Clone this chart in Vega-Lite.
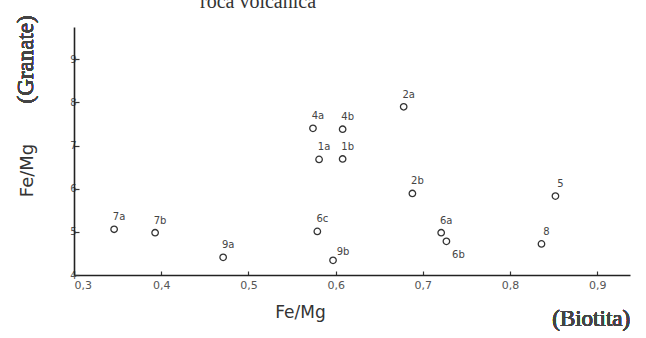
{
  "$schema": "https://vega.github.io/schema/vega-lite/v6.json",
  "width": 556,
  "height": 248,
  "autosize": {"type": "none"},
  "padding": {"left": 74, "top": 27, "right": 16, "bottom": 63},
  "background": "white",
  "config": {"view": {"stroke": null}},
  "title": {"text": "roca volcanica", "font": "Liberation Serif", "fontSize": 20, "fontWeight": "normal", "color": "#333", "anchor": "start", "dx": 126, "offset": 3, "frame": "group"},
  "data": {"values": [
    {"muestra": "7a", "biotita": 0.346, "granate": 5.06},
    {"muestra": "7b", "biotita": 0.393, "granate": 4.98},
    {"muestra": "9a", "biotita": 0.471, "granate": 4.41},
    {"muestra": "6c", "biotita": 0.579, "granate": 5.01},
    {"muestra": "9b", "biotita": 0.597, "granate": 4.34},
    {"muestra": "2b", "biotita": 0.688, "granate": 5.89},
    {"muestra": "5", "biotita": 0.852, "granate": 5.83},
    {"muestra": "6a", "biotita": 0.721, "granate": 4.98},
    {"muestra": "6b", "biotita": 0.727, "granate": 4.78},
    {"muestra": "8", "biotita": 0.836, "granate": 4.72},
    {"muestra": "4a", "biotita": 0.574, "granate": 7.40},
    {"muestra": "4b", "biotita": 0.608, "granate": 7.38},
    {"muestra": "1a", "biotita": 0.581, "granate": 6.68},
    {"muestra": "1b", "biotita": 0.608, "granate": 6.69},
    {"muestra": "2a", "biotita": 0.678, "granate": 7.90}
  ]},
  "encoding": {
    "x": {"field": "biotita", "type": "quantitative",
      "scale": {"domain": [0.3, 0.9375], "nice": false, "zero": false},
      "axis": {"values": [0.3, 0.4, 0.5, 0.6, 0.7, 0.8, 0.9], "grid": false,
        "labelExpr": "replace(format(datum.value, '.1f'), '.', ',')",
        "domainColor": "#222", "domainWidth": 1.6, "tickColor": "#333", "tickSize": -4, "tickWidth": 1.2,
        "labelColor": "#555", "labelFont": "DejaVu Sans", "labelFontSize": 11, "labelPadding": 8, "labelFlush": true,
        "title": "Fe/Mg", "titleFont": "DejaVu Sans", "titleFontSize": 17, "titleFontWeight": "normal", "titleColor": "#333",
        "titleX": 226, "titleY": 46, "titleAnchor": "middle", "titleAlign": "center", "titleBaseline": "bottom"}},
    "y": {"field": "granate", "type": "quantitative",
      "scale": {"domain": [4, 9.75], "nice": false, "zero": false},
      "axis": {"values": [4, 5, 6, 7, 8, 9], "grid": false, "format": "d",
        "domainColor": "#222", "domainWidth": 1.6, "tickColor": "#333", "tickSize": -5, "tickWidth": 1.2,
        "labelColor": "#555", "labelFont": "DejaVu Sans", "labelFontSize": 10, "labelPadding": 3,
        "title": "Fe/Mg", "titleFont": "DejaVu Sans", "titleFontSize": 18, "titleFontWeight": "normal", "titleColor": "#333",
        "titleX": -38, "titleY": 143, "titleAngle": 270, "titleAlign": "center", "titleBaseline": "bottom"}}
  },
  "layer": [
    {"mark": {"type": "point", "shape": "circle", "filled": false, "size": 42, "stroke": "#333", "strokeWidth": 1.3, "opacity": 1}},
    {"transform": [{"filter": "datum.muestra != '9b' && datum.muestra != '6b'"}],
      "mark": {"type": "text", "font": "DejaVu Sans", "fontSize": 10, "color": "#444", "dx": 5, "dy": -12, "align": "center", "baseline": "middle"},
      "encoding": {"text": {"field": "muestra"}}},
    {"transform": [{"filter": "datum.muestra == '9b'"}],
      "mark": {"type": "text", "font": "DejaVu Sans", "fontSize": 10, "color": "#444", "dx": 10, "dy": -8, "align": "center", "baseline": "middle"},
      "encoding": {"text": {"field": "muestra"}}},
    {"transform": [{"filter": "datum.muestra == '6b'"}],
      "mark": {"type": "text", "font": "DejaVu Sans", "fontSize": 10, "color": "#444", "dx": 12, "dy": 14, "align": "center", "baseline": "middle"},
      "encoding": {"text": {"field": "muestra"}}},
    {"mark": {"type": "text", "font": "Liberation Serif", "fontSize": 23, "fontWeight": "normal", "color": "#444", "angle": 270, "align": "center", "baseline": "middle", "clip": false},
      "encoding": {"x": {"datum": 0.245}, "y": {"datum": 9.0}, "text": {"value": "(Granate)"}}},
    {"mark": {"type": "text", "font": "Liberation Serif", "fontSize": 23, "fontWeight": "normal", "color": "#444", "align": "center", "baseline": "middle", "clip": false},
      "encoding": {"x": {"datum": 0.893}, "y": {"datum": 2.99}, "text": {"value": "(Biotita)"}}}
  ]
}
